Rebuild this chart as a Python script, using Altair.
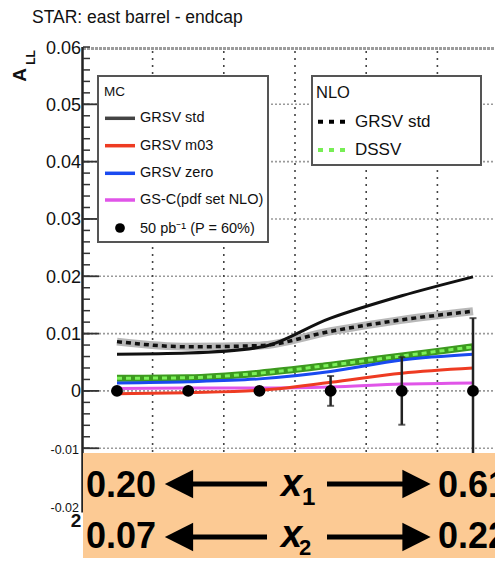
import altair as alt
import pandas as pd

FONT = "Liberation Sans"

# ---------------- data ----------------
bins = [1, 2, 3, 4, 5, 6]
mc_grsv_std = [0.0064, 0.0066, 0.0076, 0.0127, 0.0166, 0.0199]
mc_grsv_m03 = [-0.0005, -0.0003, 0.0001, 0.0015, 0.0031, 0.0040]
mc_grsv_zero = [0.0014, 0.0016, 0.0021, 0.0034, 0.0054, 0.0064]
mc_gsc = [0.0004, 0.0005, 0.0005, 0.0007, 0.0012, 0.0014]
nlo_grsv_std = [0.0086, 0.0077, 0.0079, 0.0104, 0.0124, 0.0139]
nlo_dssv = [0.0022, 0.0023, 0.0031, 0.0045, 0.0061, 0.0077]
proj_val = [0.0, 0.0, 0.0, 0.0, 0.0, 0.0]
proj_err = [0.0003, 0.0004, 0.0006, 0.0026, 0.0059, 0.0127]

y_tick_pos = [0.0, 0.01, 0.02, 0.03, 0.04, 0.05, 0.06]
y_tick_pos_labels = ["0", "0.01", "0.02", "0.03", "0.04", "0.05", "0.06"]
y_tick_neg = [-0.01, -0.02]
y_tick_neg_labels = ["-0.01", "-0.02"]
y_grid_values = [-0.01, 0.0, 0.01, 0.02, 0.03, 0.04, 0.05]
x_grid_values = [1.5, 2.5, 3.5, 4.5, 5.5]
y_minor_values = [round(-0.022 + 0.002 * i, 3) for i in range(42)]
y_major_values = [-0.02, -0.01, 0.0, 0.01, 0.02, 0.03, 0.04, 0.05]
axis_span = [0.06, -0.0212]

mc_labels = ["GRSV std", "GRSV m03", "GRSV zero", "GS-C(pdf set NLO)"]
mc_colors = ["#444444", "#EE3B22", "#1A4AF0", "#E055E8"]
nlo_labels = ["GRSV std", "DSSV"]
nlo_colors = ["#000000", "#77EE55"]

W, H = 412, 511
xscale = alt.Scale(domain=[0.5225, 6.309], nice=False, zero=False)
yscale = alt.Scale(domain=[-0.02915, 0.06], nice=False, zero=False)

X = alt.X("x:Q", scale=xscale, axis=None)
Y = alt.Y("v:Q", scale=yscale, axis=None)


def series_df(vals):
    return pd.DataFrame({"x": bins, "v": vals})


one = pd.DataFrame({"a": [0]})


def txt(s, x, y, size, weight="normal", align="left", baseline="middle", angle=0,
        color="#111111", style="normal"):
    return alt.Chart(pd.DataFrame({"t": [s]})).mark_text(
        align=align, baseline=baseline, font=FONT, fontSize=size, fontWeight=weight,
        fontStyle=style, color=color, angle=angle
    ).encode(text="t:N", x=alt.value(x), y=alt.value(y))


def hrule(x1, x2, y, color, width, dash=None):
    kw = dict(color=color, strokeWidth=width)
    if dash:
        kw["strokeDash"] = dash
    return alt.Chart(one).mark_rule(**kw).encode(
        x=alt.value(x1), x2=alt.value(x2), y=alt.value(y))


layers = []

# grid
layers.append(alt.Chart(pd.DataFrame({"v": y_grid_values})).mark_rule(
    color="#9a9a9a", strokeWidth=1.6, strokeDash=[2, 2]
).encode(y=Y, x=alt.value(0), x2=alt.value(W)))
layers.append(alt.Chart(pd.DataFrame({"x": x_grid_values})).mark_rule(
    color="#444444", strokeWidth=1.6, strokeDash=[2, 5]
).encode(x=X, y=alt.value(4), y2=alt.value(H)))
# top frame
layers.append(hrule(0, W, 1.5, "#9c9c9c", 3, [3, 1]))

# NLO bands and dashed curves
layers.append(alt.Chart(series_df(nlo_grsv_std)).mark_line(
    interpolate="monotone", color="#b0b0b0", strokeWidth=8, opacity=0.9
).encode(x=X, y=Y))
layers.append(alt.Chart(series_df(nlo_dssv)).mark_line(
    interpolate="monotone", color="#3c9a1e", strokeWidth=7
).encode(x=X, y=Y))
layers.append(alt.Chart(series_df(nlo_grsv_std)).mark_line(
    interpolate="monotone", color="#111111", strokeWidth=3.5, strokeDash=[5, 4]
).encode(x=X, y=Y))
layers.append(alt.Chart(series_df(nlo_dssv)).mark_line(
    interpolate="monotone", color="#7CF05A", strokeWidth=3, strokeDash=[5, 4]
).encode(x=X, y=Y))

# MC curves
for vals, col in [(mc_grsv_zero, "#1A4AF0"), (mc_gsc, "#E055E8"),
                  (mc_grsv_m03, "#EE3B22"), (mc_grsv_std, "#111111")]:
    layers.append(alt.Chart(series_df(vals)).mark_line(
        interpolate="monotone", color=col, strokeWidth=3
    ).encode(x=X, y=Y))

# projected points with error bars
proj = pd.DataFrame({"x": bins, "v": proj_val, "e": proj_err})
eb = alt.Chart(proj).transform_calculate(lo="datum.v - datum.e", hi="datum.v + datum.e")
layers.append(eb.mark_rule(color="#222222", strokeWidth=2.5).encode(
    x=X, y=alt.Y("lo:Q", scale=yscale, axis=None), y2="hi:Q"))
layers.append(eb.mark_tick(color="#222222", orient="horizontal", size=7, thickness=2).encode(
    x=X, y=alt.Y("hi:Q", scale=yscale, axis=None)))
layers.append(eb.mark_tick(color="#222222", orient="horizontal", size=7, thickness=2).encode(
    x=X, y=alt.Y("lo:Q", scale=yscale, axis=None)))
layers.append(alt.Chart(proj).mark_circle(color="#000000", size=140, opacity=1).encode(x=X, y=Y))

# y axis line, inner ticks and tick labels
layers.append(alt.Chart(pd.DataFrame({"v": [axis_span[0]], "v2": [axis_span[1]]})).mark_rule(
    color="#222222", strokeWidth=2.5
).encode(x=alt.value(-0.5), y=Y, y2="v2:Q"))
layers.append(alt.Chart(pd.DataFrame({"v": y_minor_values})).mark_rule(
    color="#333333", strokeWidth=1.5
).encode(y=Y, x=alt.value(0), x2=alt.value(7)))
layers.append(alt.Chart(pd.DataFrame({"v": y_major_values})).mark_rule(
    color="#333333", strokeWidth=1.8
).encode(y=Y, x=alt.value(0), x2=alt.value(16)))
layers.append(alt.Chart(pd.DataFrame({"v": y_tick_pos, "t": y_tick_pos_labels})).mark_text(
    align="right", baseline="middle", font=FONT, fontSize=18, color="#111111", dy=1.5
).encode(y=Y, x=alt.value(-2), text="t:N"))
layers.append(alt.Chart(pd.DataFrame({"v": y_tick_neg, "t": y_tick_neg_labels})).mark_text(
    align="right", baseline="middle", font=FONT, fontSize=12.5, color="#111111", dy=2
).encode(y=Y, x=alt.value(-4), text="t:N"))

# MC legend box
layers.append(alt.Chart(one).mark_rect(fill="white", stroke="#555555", strokeWidth=2).encode(
    x=alt.value(15), x2=alt.value(185), y=alt.value(29), y2=alt.value(195)))
layers.append(txt("MC", 21, 45, 13.5))
mc_rows = [71.3, 98.7, 126.3, 153]
for lab, col, yy in zip(mc_labels, mc_colors, mc_rows):
    layers.append(hrule(22, 52, yy, col, 3.5))
    layers.append(txt(lab, 57, yy, 14.5))
layers.append(alt.Chart(one).mark_circle(color="#000000", size=95, opacity=1).encode(
    x=alt.value(37), y=alt.value(181)))
layers.append(txt("50 pb\u207b\u00b9 (P = 60%)", 57, 182, 14.5))

# NLO legend box
layers.append(alt.Chart(one).mark_rect(fill="white", stroke="#555555", strokeWidth=2).encode(
    x=alt.value(229), x2=alt.value(398), y=alt.value(29), y2=alt.value(118)))
layers.append(txt("NLO", 233, 46, 16.5))
for lab, col, yy in zip(nlo_labels, nlo_colors, [74.7, 103]):
    layers.append(hrule(235, 266, yy, col, 4, [5, 6]))
    layers.append(txt(lab, 272, yy, 17))

# orange x-range band
layers.append(alt.Chart(one).mark_rect(fill="#FCCA94").encode(
    x=alt.value(0), x2=alt.value(W), y=alt.value(406), y2=alt.value(H)))

LEFT_TRI = "M -1 0 L 1 -1 L 1 1 Z"
RIGHT_TRI = "M 1 0 L -1 -1 L -1 1 Z"
rows = [
    ("0.20", "0.61", "1", 449.5, 437.0, 219, 24, 8.5),
    ("0.07", "0.22", "2", 500.5, 490.0, 216, 22, 7.0),
]
for lo_lab, hi_lab, sub, base, ay, subx, subsize, subdy in rows:
    layers.append(txt(lo_lab, 3, base, 36, weight="bold", baseline="alphabetic", color="#000000"))
    layers.append(txt(hi_lab, 355, base, 36, weight="bold", baseline="alphabetic", color="#000000"))
    layers.append(txt("x", 198, base - 0.5, 38, weight="bold", style="italic",
                      baseline="alphabetic", color="#000000"))
    layers.append(txt(sub, subx, base + subdy, subsize,
                      weight="bold", baseline="alphabetic", color="#000000"))
    layers.append(hrule(108, 184, ay, "#000000", 5))
    layers.append(hrule(244, 322, ay, "#000000", 5))
    layers.append(alt.Chart(one).mark_point(shape=LEFT_TRI, size=800, filled=True,
                                            color="#000000", opacity=1, strokeWidth=0).encode(
        x=alt.value(96), y=alt.value(ay)))
    layers.append(alt.Chart(one).mark_point(shape=RIGHT_TRI, size=800, filled=True,
                                            color="#000000", opacity=1, strokeWidth=0).encode(
        x=alt.value(333.5), y=alt.value(ay)))

# title, y label, stray glyph
layers.append(txt("STAR: east barrel - endcap", -51, -24, 17.5, baseline="alphabetic"))
layers.append(txt("A", -63, 28, 19, weight="bold", align="center", angle=270))
layers.append(txt("LL", -52.5, 10.5, 12, weight="bold", align="center", angle=270))
layers.append(txt("2", -7, 474, 19, weight="bold", align="center"))

chart = alt.layer(*layers).properties(
    width=W, height=H,
    padding={"left": 75, "top": 39, "right": 0, "bottom": 0},
    autosize=alt.AutoSizeParams(type="none"),
    background="white",
).configure_view(strokeWidth=0)

chart.save("out.html", embed_options={"renderer": "svg", "actions": False})
